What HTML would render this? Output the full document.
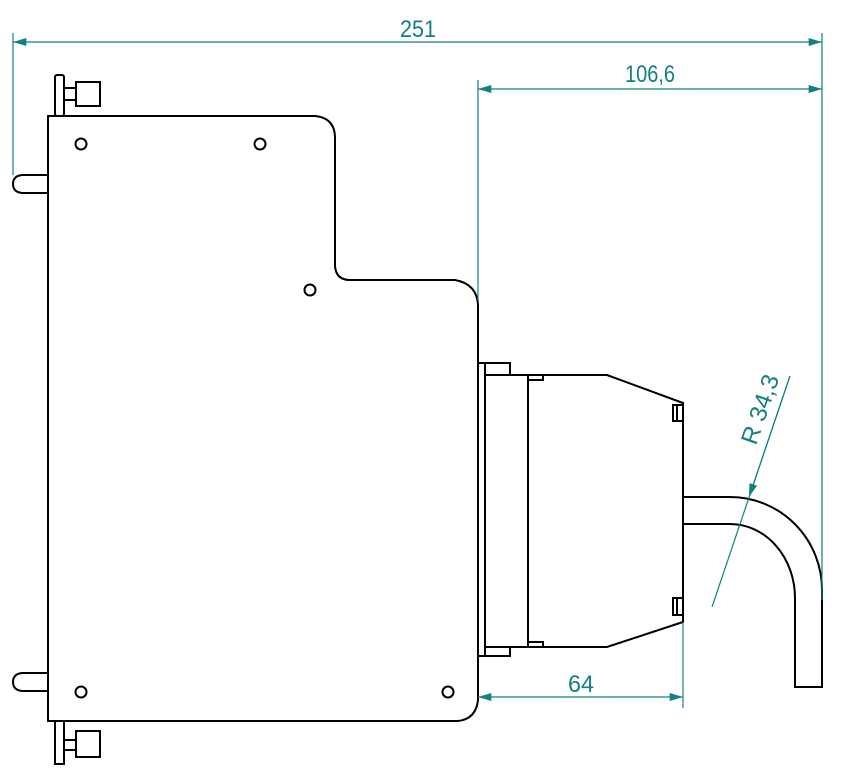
<!DOCTYPE html>
<html><head><style>html,body{margin:0;padding:0;background:#fff}svg{display:block}</style></head>
<body>
<svg width="843" height="779" viewBox="0 0 843 779" xmlns="http://www.w3.org/2000/svg">
<defs>
<marker id="a" viewBox="0 0 10 6" refX="10" refY="3" markerWidth="18" markerHeight="8" markerUnits="userSpaceOnUse" orient="auto-start-reverse"><path d="M0,0 L10,3 L0,6 z" fill="#138080"/></marker>
</defs>
<g fill="none" stroke="#000" stroke-width="2">
<path d="M48,116 L315,116 Q335,118 335,138 L335,266 Q336,280 350,280 L455,280 Q477,284 478,305 L478,700 Q476,719 458,721 L48,721 Z"/>
<rect x="55" y="75" width="9" height="41" rx="2"/>
<rect x="76" y="82" width="24" height="24"/>
<line x1="64" y1="88" x2="76" y2="88"/><line x1="64" y1="100" x2="76" y2="100"/>
<rect x="55" y="721" width="9" height="43"/>
<rect x="76" y="731" width="24" height="26"/>
<line x1="64" y1="740" x2="76" y2="740"/><line x1="64" y1="750" x2="76" y2="750"/>
<path d="M48,175 L22,175 Q13,176 13,184 Q13,192 22,193 L48,193"/>
<path d="M48,673 L22,673 Q13,674 13,682 Q13,690 22,691 L48,691"/>
<circle cx="81" cy="144" r="5.5"/><circle cx="260" cy="144" r="5.5"/><circle cx="310" cy="290" r="5.5"/>
<circle cx="81" cy="692" r="5.5"/><circle cx="448" cy="692" r="5.5"/>
<line x1="485" y1="363" x2="485" y2="656"/>
<path d="M478,363 L485,363 L510,363 L510,375 L607,375 L683,403 L683,622 L607,647 L510,647 L510,656 L478,656"/>
<line x1="485" y1="375" x2="510" y2="375"/><line x1="485" y1="647" x2="510" y2="647"/>
<line x1="528" y1="375" x2="528" y2="647"/>
<rect x="528" y="375" width="15" height="5"/><rect x="528" y="642" width="15" height="5"/>
<rect x="673" y="405" width="10" height="16"/><line x1="677" y1="405" x2="677" y2="421"/>
<rect x="673" y="598" width="10" height="17"/><line x1="677" y1="598" x2="677" y2="615"/>
<path d="M683,497 L730,497 A92,93 0 0 1 822,590 L822,687 L795,687 L795,598 A65,74 0 0 0 730,524 L683,524"/>
</g>
<g stroke="#138080" stroke-width="1.2" fill="none">
<line x1="13" y1="33" x2="13" y2="175"/>
<line x1="822" y1="33" x2="822" y2="600"/>
<line x1="478" y1="80" x2="478" y2="300"/>
<line x1="683" y1="622" x2="683" y2="708"/>
<line x1="13" y1="42" x2="822" y2="42" marker-start="url(#a)" marker-end="url(#a)"/>
<line x1="478" y1="89" x2="822" y2="89" marker-start="url(#a)" marker-end="url(#a)"/>
<line x1="478" y1="697" x2="683" y2="697" marker-start="url(#a)" marker-end="url(#a)"/>
<line x1="790" y1="376" x2="712" y2="607"/>
<line x1="790" y1="376" x2="749" y2="497" marker-end="url(#a)"/>
</g>
<g fill="#138080" font-family="'Liberation Sans Narrow','Liberation Sans',sans-serif" font-size="24">
<text x="418" y="37" text-anchor="middle" textLength="36" lengthAdjust="spacingAndGlyphs">251</text>
<text x="650" y="82" text-anchor="middle" textLength="50" lengthAdjust="spacingAndGlyphs">106,6</text>
<text x="581" y="692" text-anchor="middle" textLength="26" lengthAdjust="spacingAndGlyphs">64</text>
<text transform="translate(756,446) rotate(-71)" textLength="72" lengthAdjust="spacingAndGlyphs">R 34,3</text>
</g>
</svg>
</body></html>
